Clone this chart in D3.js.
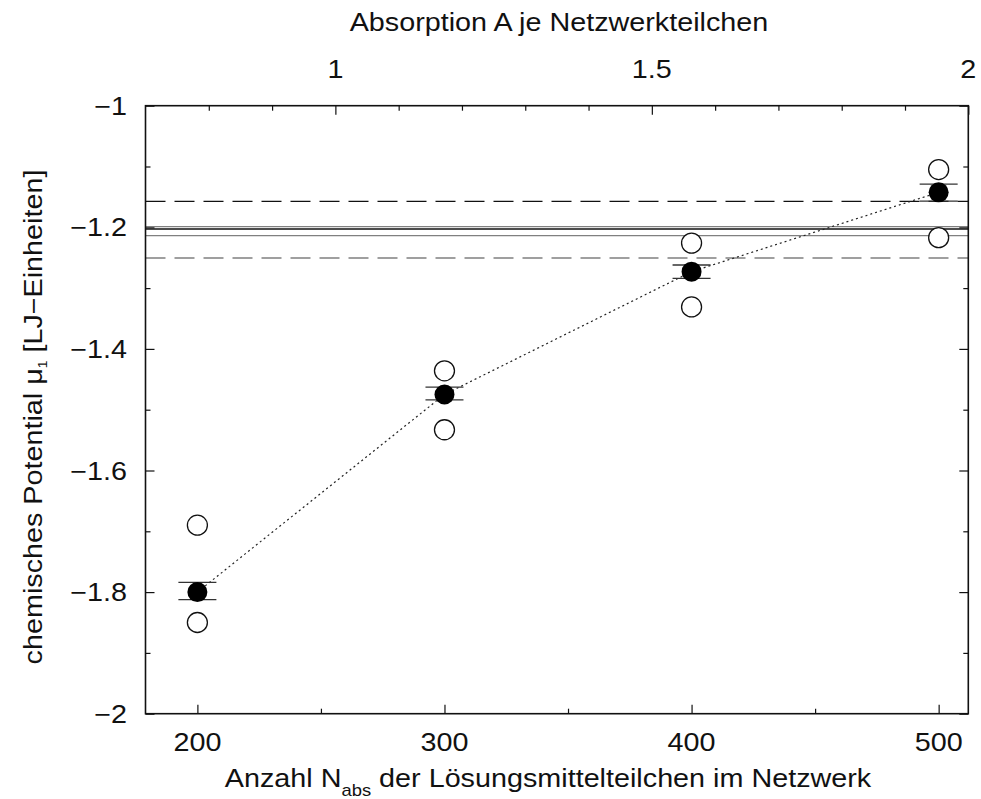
<!DOCTYPE html>
<html>
<head>
<meta charset="utf-8">
<script src="https://cdn.jsdelivr.net/npm/d3@7"></script>
<style>
    body { margin: 0; background: #fff; }
    text { font-family: 'Liberation Sans', Arial, sans-serif; fill: #111; }
</style>
</head>
<body>
<div id="chart"></div>
<script>
// Chart data
const nAbs = [200, 300, 400, 500];
const muMean = [-1.800, -1.475, -1.273, -1.1425];
const muErrTop = [-1.784, -1.463, -1.262, -1.129];
const muErrBottom = [-1.8125, -1.484, -1.284, -1.157];
const muOpenUpper = [-1.690, -1.436, -1.226, -1.105];
const muOpenLower = [-1.850, -1.533, -1.331, -1.217];

// horizontal reference levels
const blackSolidLevels = [-1.2028];
const blackDashedLevels = [-1.1572];
const graySolidLevels = [-1.199, -1.2138];
const grayDashedLevels = [-1.2505];

// ticks
const xMajorTicks = [200, 300, 400, 500];
const xMinorTicks = [250, 350, 450];
const x2MajorTicks = [1, 1.5, 2];
const x2MinorTicks = [0.8, 0.9, 1.1, 1.2, 1.3, 1.4, 1.6, 1.7, 1.8, 1.9];
const yMajorTicks = [-1, -1.2, -1.4, -1.6, -1.8, -2];
const yMinorTicks = [-1.1, -1.3, -1.5, -1.7, -1.9];

const WIDTH = 981, HEIGHT = 799;
const PLOT = { left: 145.5, right: 968.3, top: 105.7, bottom: 713.7 };
const FONT_SIZE = 25;
const STRETCH = 1.15;   // the reference glyphs are wider than Liberation Sans

const svg = d3.select('#chart').append('svg')
    .attr('width', WIDTH)
    .attr('height', HEIGHT);

// Scales
const x = d3.scaleLinear().domain([179, 512]).range([PLOT.left, PLOT.right]);
const x2 = d3.scaleLinear().domain([0.7, 2.0]).range([PLOT.left, PLOT.right]);
const y = d3.scaleLinear().domain([-2, -1]).range([PLOT.bottom, PLOT.top]);

const fmt = d => String(d).replace('-', '\u2212');

// text helper: stretched horizontally along its own baseline
function addText(x0, y0, anchor, rot) {
    return svg.append('text')
        .attr('transform', `translate(${x0},${y0}) rotate(${rot || 0}) scale(${STRETCH},1)`)
        .attr('text-anchor', anchor)
        .attr('font-size', FONT_SIZE);
}

// Ticks (inward), drawn with d3 axes
function tickAxis(axisFn, scale, values, size, translate) {
    const g = svg.append('g')
        .attr('transform', translate)
        .call(axisFn(scale).tickValues(values).tickSize(size).tickFormat(''));
    g.select('.domain').remove();
    g.selectAll('line').attr('stroke', '#111').attr('stroke-width', 1.2);
}
tickAxis(d3.axisBottom, x, xMajorTicks, -9, `translate(0,${PLOT.bottom})`);
tickAxis(d3.axisBottom, x, xMinorTicks, -5, `translate(0,${PLOT.bottom})`);
tickAxis(d3.axisTop, x2, x2MajorTicks, -9, `translate(0,${PLOT.top})`);
tickAxis(d3.axisTop, x2, x2MinorTicks, -5, `translate(0,${PLOT.top})`);
tickAxis(d3.axisLeft, y, yMajorTicks, -9, `translate(${PLOT.left},0)`);
tickAxis(d3.axisLeft, y, yMinorTicks, -5, `translate(${PLOT.left},0)`);
tickAxis(d3.axisRight, y, yMajorTicks, -9, `translate(${PLOT.right},0)`);
tickAxis(d3.axisRight, y, yMinorTicks, -5, `translate(${PLOT.right},0)`);

// Tick labels
xMajorTicks.forEach(v => addText(x(v), 751, 'middle').text(v));
x2MajorTicks.forEach(v => addText(x2(v), 78, 'middle').text(v));
yMajorTicks.forEach(v => addText(127, y(v) + 9, 'end').text(fmt(v)));

// Axis titles
const xTitle = addText(548, 787, 'middle');
xTitle.append('tspan').text('Anzahl N');
xTitle.append('tspan').attr('font-size', 16).attr('dy', 9).text('abs');
xTitle.append('tspan').attr('dy', -9).text(' der Lösungsmittelteilchen im Netzwerk');

addText(559, 31, 'middle').text('Absorption A je Netzwerkteilchen');

const yTitle = addText(42, 417, 'middle', -90);
yTitle.append('tspan').text('chemisches Potential \u03bc');
yTitle.append('tspan').attr('font-size', 12).attr('dy', 5).text('1');
yTitle.append('tspan').attr('dy', -5).text(' [LJ\u2212Einheiten]');

// Reference lines
function hLines(levels, color, dash) {
    svg.selectAll(null)
        .data(levels)
        .enter().append('line')
        .attr('x1', PLOT.left)
        .attr('x2', PLOT.right)
        .attr('y1', d => y(d))
        .attr('y2', d => y(d))
        .attr('stroke', color)
        .attr('stroke-width', 1.3)
        .attr('stroke-dasharray', dash);
}
hLines(graySolidLevels, '#808080', null);
hLines(grayDashedLevels, '#808080', '20,9');
hLines(blackSolidLevels, '#111', null);
hLines(blackDashedLevels, '#111', '20,9');

// Dotted connecting line through the means
const line = d3.line()
    .x((d, i) => x(nAbs[i]))
    .y(d => y(d));
svg.append('path')
    .datum(muMean)
    .attr('d', line)
    .attr('fill', 'none')
    .attr('stroke', '#222')
    .attr('stroke-width', 1.2)
    .attr('stroke-dasharray', '2,3');

// Open circles
svg.selectAll('.open-upper')
    .data(muOpenUpper)
    .enter().append('circle')
    .attr('class', 'open-upper')
    .attr('cx', (d, i) => x(nAbs[i]))
    .attr('cy', d => y(d))
    .attr('r', 10)
    .attr('fill', 'white')
    .attr('stroke', '#111')
    .attr('stroke-width', 1.3);

svg.selectAll('.open-lower')
    .data(muOpenLower)
    .enter().append('circle')
    .attr('class', 'open-lower')
    .attr('cx', (d, i) => x(nAbs[i]))
    .attr('cy', d => y(d))
    .attr('r', 10)
    .attr('fill', 'white')
    .attr('stroke', '#111')
    .attr('stroke-width', 1.3);

// Error bars
nAbs.forEach((n, i) => {
    const cx = x(n);
    svg.append('line')
        .attr('x1', cx).attr('x2', cx)
        .attr('y1', y(muErrTop[i])).attr('y2', y(muErrBottom[i]))
        .attr('stroke', '#111').attr('stroke-width', 1.2);
    [muErrTop[i], muErrBottom[i]].forEach(v => {
        svg.append('line')
            .attr('x1', cx - 19).attr('x2', cx + 19)
            .attr('y1', y(v)).attr('y2', y(v))
            .attr('stroke', '#333').attr('stroke-width', 1.3);
    });
});

// Filled means
svg.selectAll('.mean')
    .data(muMean)
    .enter().append('circle')
    .attr('class', 'mean')
    .attr('cx', (d, i) => x(nAbs[i]))
    .attr('cy', d => y(d))
    .attr('r', 10)
    .attr('fill', '#000');

// Frame
svg.append('rect')
    .attr('x', PLOT.left)
    .attr('y', PLOT.top)
    .attr('width', PLOT.right - PLOT.left)
    .attr('height', PLOT.bottom - PLOT.top)
    .attr('fill', 'none')
    .attr('stroke', '#111')
    .attr('stroke-width', 1.6);
</script>
</body>
</html>
